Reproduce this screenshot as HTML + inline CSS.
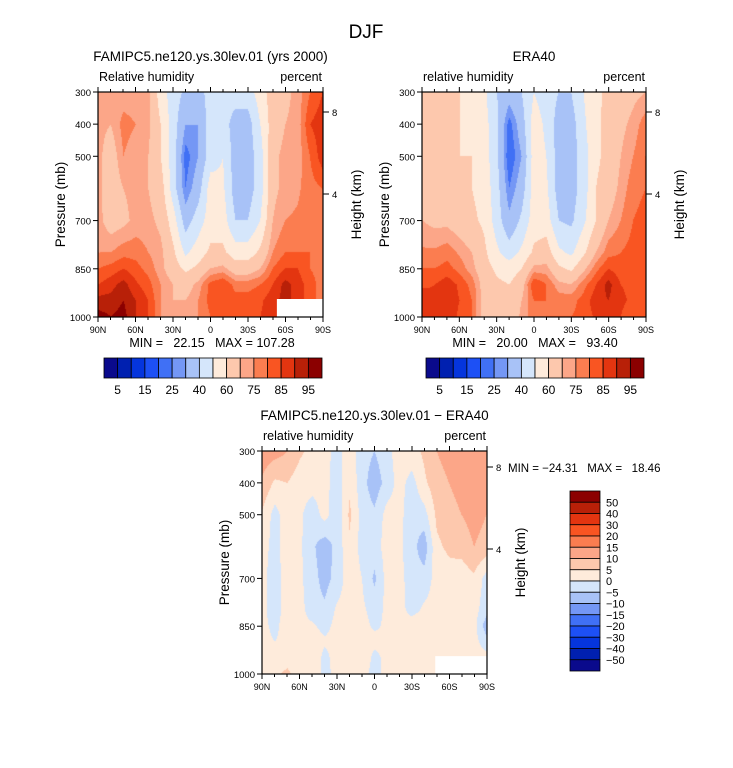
<!DOCTYPE html>
<html><head><meta charset="utf-8"><style>
html,body{margin:0;padding:0;background:#fff;}
#root{position:relative;width:733px;height:768px;overflow:hidden;font-family:"Liberation Sans",sans-serif;}
canvas{position:absolute;}
svg{position:absolute;left:0;top:0;}
text{white-space:pre;}
</style></head><body>
<div id="root">
<canvas id="c1" style="left:98px;top:92px" width="225" height="225"></canvas>
<canvas id="c2" style="left:422px;top:92px" width="224" height="225"></canvas>
<canvas id="c3" style="left:262px;top:451px" width="225" height="223"></canvas>
<svg id="s" width="733" height="768"></svg>
</div>
<script>
// ---- data ----
const latLabels = ["90N","60N","30N","0","30S","60S","90S"];
const pLevels = [300,400,500,600,700,800,850,900,950,1000];
const pTicks = [300,400,500,700,850,1000];
const rhLevels = [5,10,15,20,25,30,40,50,60,70,75,80,85,90,95];
const rhLabels = ["5","15","25","40","60","75","85","95"];
const diffLevels = [-50,-40,-30,-20,-15,-10,-5,0,5,10,15,20,30,40,50];
const diffLabels = ["50","40","30","20","15","10","5","0","\u22125","\u221210","\u221215","\u221220","\u221230","\u221240","\u221250"];
const colors = ["#0a0a8c","#0020b0","#0535dd","#1d50f5","#4070f5","#7497f5","#a8c2f7","#d5e6fb","#feebdb","#fdc8ad","#fca688","#fb7d50","#f95522","#e33510","#b82008","#8b0000"];
const modelRH = [
[72,72,72,72,72,55,45,38,35,45,45,45,45,55,65,68,72,80,85],
[72,70,77,75,72,60,45,30,30,45,45,35,35,50,65,70,72,85,88],
[72,65,75,72,70,60,45,22,30,45,50,35,35,45,68,72,72,80,88],
[72,65,70,72,70,65,45,25,35,55,52,35,35,45,68,72,74,78,80],
[72,66,68,72,72,68,55,35,45,55,55,40,40,50,70,75,76,78,78],
[75,75,78,78,75,72,62,48,55,62,62,55,55,62,75,80,80,80,78],
[80,82,85,82,78,72,65,58,62,70,72,65,65,70,80,85,85,80,78],
[85,88,92,86,82,75,70,66,72,82,85,78,78,80,85,92,88,82,78],
[92,92,95,90,85,75,70,70,75,82,85,82,82,84,88,92,88,82,78],
[97,95,97,90,85,75,70,72,75,80,82,82,84,85,88,90,85,80,78]];
const eraRH = [
[65,62,62,60,58,52,40,35,40,50,45,40,40,50,58,62,65,68,70],
[65,62,62,60,58,54,42,22,35,55,48,35,35,48,58,63,68,72,78],
[65,62,62,60,60,55,42,20,30,55,50,35,35,45,58,63,70,75,80],
[65,64,65,62,60,56,44,25,35,55,52,35,35,45,60,65,72,78,80],
[70,68,68,65,62,58,45,32,42,55,55,40,38,48,60,70,75,80,82],
[76,76,78,74,70,62,52,45,52,62,65,52,48,58,70,78,80,82,82],
[80,80,82,78,72,64,58,55,60,72,72,62,58,68,78,85,82,82,82],
[84,85,88,84,78,66,62,60,66,85,80,72,70,78,85,92,85,84,84],
[88,86,88,85,80,66,62,62,70,80,80,78,78,82,88,90,86,84,84],
[90,88,88,84,80,66,62,62,72,78,80,80,80,82,86,88,85,82,82]];
const diffRH = [
[13,12,10,6,3,2,-2,3,-3,-5,-2,3,3,6,10,12,13,13,13],
[9,4,5,2,2,2,-3,4,-3,-8,-3,2,-2,4,8,10,12,13,13],
[4,-2,3,1,-3,2,-4,6,-2,-4,2,2,-4,-2,6,8,10,12,10],
[2,-2,3,1,-4,-8,-3,4,-2,-2,2,1,-3,-8,4,6,7,10,8],
[1,-2,2,1,-3,-7,-3,3,0,-6,2,2,-3,-3,2,3,2,4,-2],
[1,-2,2,2,-3,-4,1,2,1,-2,1,2,-2,1,2,3,2,2,-3],
[1,-1,2,2,1,-2,2,2,2,-1,1,3,3,4,2,3,2,2,-8],
[1,0,1,2,3,1,2,1,4,2,1,1,4,2,3,4,2,2,-3],
[2,2,3,2,5,-2,3,5,5,-2,2,1,4,3,2,3,2,2,2],
[3,4,6,2,4,-2,2,3,2,-2,2,1,2,3,2,3,2,2,2]];

// ---- contour raster ----
function hex(c){return [parseInt(c.substr(1,2),16),parseInt(c.substr(3,2),16),parseInt(c.substr(5,2),16)];}
const rgb = colors.map(hex);
function drawField(id, grid, levels){
  const cv=document.getElementById(id), ctx=cv.getContext('2d');
  const W=cv.width,H=cv.height, img=ctx.createImageData(W,H);
  const nc=grid[0].length;
  for(let y=0;y<H;y++){
    const p=300+700*y/(H-1);
    let r=0; while(r<pLevels.length-2 && p>pLevels[r+1]) r++;
    const t=(p-pLevels[r])/(pLevels[r+1]-pLevels[r]);
    for(let x=0;x<W;x++){
      const cx=(nc-1)*x/(W-1); let c=Math.min(Math.floor(cx),nc-2); const s=cx-c;
      const v=(grid[r][c]*(1-s)+grid[r][c+1]*s)*(1-t)+(grid[r+1][c]*(1-s)+grid[r+1][c+1]*s)*t;
      let k=0; while(k<levels.length && v>=levels[k]) k++;
      const col=rgb[k], i=(y*W+x)*4;
      img.data[i]=col[0];img.data[i+1]=col[1];img.data[i+2]=col[2];img.data[i+3]=255;
    }
  }
  ctx.putImageData(img,0,0);
}
drawField('c1',modelRH,rhLevels);
drawField('c2',eraRH,rhLevels);
drawField('c3',diffRH,diffLevels);

// ---- svg annotations ----
const S=document.getElementById('s'), NS="http://www.w3.org/2000/svg";
function el(tag,attrs,txt){const e=document.createElementNS(NS,tag);for(const k in attrs)e.setAttribute(k,attrs[k]);if(txt!==undefined)e.textContent=txt;S.appendChild(e);return e;}
function txt(x,y,s,size,anchor,name,rot){
  const a={x:x,y:y,'font-size':size,'text-anchor':anchor||'middle',fill:'#000','font-family':'Liberation Sans, sans-serif'};
  if(rot)a.transform='rotate(-90 '+x+' '+y+')';
  const e=el('text',a,s);
  
  
  return e;
}
function panel(x0,y0,w,h,opt){
  const xs=u=>x0+u*w, ys=p=>y0+(p-300)/700*h;
  if(opt.mask){const m=el('rect',{x:xs(opt.mask[0]),y:ys(opt.mask[1]),width:xs(1)-xs(opt.mask[0]),height:ys(1000)-ys(opt.mask[1]),fill:'#fff'});
    
    }
  const f=el('rect',{x:x0,y:y0,width:w,height:h,fill:'none',stroke:'#000','stroke-width':1.2});
  
  
  for(let i=0;i<=18;i++){
    const x=xs(i/18), L=(i%3==0)?5:3;
    el('line',{x1:x,x2:x,y1:y0+h,y2:y0+h+L,stroke:'#000','stroke-width':1});
    el('line',{x1:x,x2:x,y1:y0,y2:y0-L,stroke:'#000','stroke-width':1});
  }
  latLabels.forEach((l,i)=>txt(xs(i/6),y0+h+16,l,9,'middle','x-tick-label'));
  pTicks.forEach(p=>{el('line',{x1:x0-5,x2:x0,y1:ys(p),y2:ys(p),stroke:'#000'});txt(x0-7,ys(p)+4,String(p),9.5,'end','y-tick-label');});
  opt.hticks.forEach(hh=>{el('line',{x1:x0+w,x2:x0+w+6,y1:hh[1],y2:hh[1],stroke:'#000'});txt(x0+w+9,hh[1]+4,hh[0],9.5,'start','height-tick-label');});
  txt(x0-33,y0+h/2,'Pressure (mb)',13.5,'middle','y-axis-title',true);
  txt(x0+w+38,y0+h/2,'Height (km)',13.5,'middle','height-axis-title',true);
  txt(x0+w/2,y0-31,opt.title,13.5,'middle','panel-title');
  txt(x0+1,y0-11,opt.left,12.5,'start','variable-label');
  txt(x0+w-1,y0-11,'percent',12.5,'end','units-label');
}
txt(366,38,'DJF',19,'middle','figure-title');
panel(98,92,225,225,{name:'model',title:'FAMIPC5.ne120.ys.30lev.01 (yrs 2000)',left:'Relative humidity',hticks:[['8',112],['4',194]],mask:[0.795,944]});
panel(422,92,224,225,{name:'era40',title:'ERA40',left:'relative humidity',hticks:[['8',112],['4',194]]});
panel(262,451,225,223,{name:'diff',title:'FAMIPC5.ne120.ys.30lev.01 \u2212 ERA40',left:'relative humidity',hticks:[['8',467],['4',549]],mask:[0.77,944]});
txt(212,347,'MIN =   22.15   MAX = 107.28',12.5,'middle','model-min-max');
txt(535,347,'MIN =   20.00   MAX =   93.40',12.5,'middle','era40-min-max');
txt(508,472,'MIN = \u221224.31   MAX =   18.46',11.5,'start','diff-min-max');

function hbar(x0,y0,w,h,name){
  const bw=w/16;
  colors.forEach((c,i)=>{const r=el('rect',{x:x0+i*bw,y:y0,width:bw,height:h,fill:c,stroke:'#000','stroke-width':0.8});
    
    });
  rhLabels.forEach((l,i)=>txt(x0+(2*i+1)*bw,y0+h+16,l,12,'middle',name+'-label'));
}
hbar(104,358,218,20,'model-colorbar');
hbar(426,358,218,20,'era40-colorbar');
(function(){
  const x0=570,y0=491,w=30,h=180,bh=h/16;
  for(let i=0;i<16;i++){const r=el('rect',{x:x0,y:y0+i*bh,width:w,height:bh,fill:colors[15-i],stroke:'#000','stroke-width':0.8});
    
    }
  diffLabels.forEach((l,i)=>txt(x0+w+6,y0+(i+1)*bh+4,l,11,'start','diff-colorbar-label'));
})();
</script>
</body></html>
